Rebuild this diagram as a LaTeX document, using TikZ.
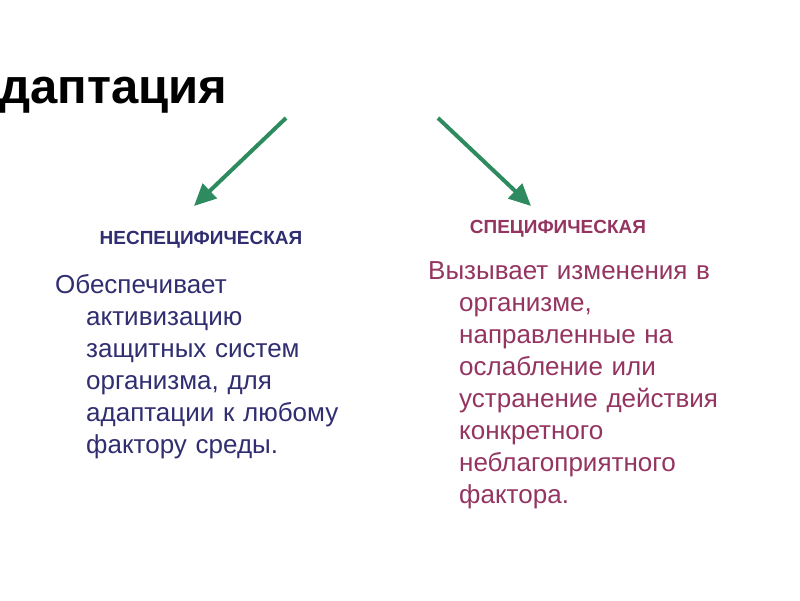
\documentclass[tikz,border=0pt]{standalone}
\usepackage{fontspec}
\setmainfont{Liberation Sans}
\usetikzlibrary{positioning, arrows.meta}
\definecolor{arrgreen}{RGB}{46,139,96}
\definecolor{navytext}{RGB}{48,46,112}
\definecolor{wine}{RGB}{148,52,96}
\newcommand{\ind}{\hspace*{31pt}}

\begin{document}
\begin{tikzpicture}[x=1pt, y=-1pt,
        head/.style={font=\fontsize{19}{22}\selectfont\bfseries, inner sep=0pt},
        body/.style={font=\fontsize{26}{32}\selectfont, text width=340pt, align=left, inner sep=0pt, anchor=north west},
        green arrow/.style={draw=arrgreen, line width=4pt, -{Triangle[length=22pt, width=20pt]}}]
        \useasboundingbox (0,0) rectangle (800,600);
        \node[anchor=base west, inner sep=0pt, font=\fontsize{49}{60}\selectfont\bfseries] (title) at (-1,103) {даптация};

        \node[head, text=navytext] (nonspec) at (201,240) {НЕСПЕЦИФИЧЕСКАЯ};
        \node[head, text=wine] (spec) at (558,229) {СПЕЦИФИЧЕСКАЯ};

        \node[body, text=navytext] (nonspectext) at (55,274)
            {Обеспечивает\\ \ind активизацию\\ \ind защитных систем\\ \ind организма, для\\ \ind адаптации к любому\\ \ind фактору среды.};
        \node[body, text=wine] (spectext) at (428,261)
            {Вызывает изменения в\\ \ind организме,\\ \ind направленные на\\ \ind ослабление или\\ \ind устранение действия\\ \ind конкретного\\ \ind неблагоприятного\\ \ind фактора.};

        \coordinate (l0) at (286,118);
        \coordinate (l1) at (194,206);
        \coordinate (r0) at (438,118);
        \coordinate (r1) at (531,206);
        \draw[green arrow] (l0) -- (l1);
        \draw[green arrow] (r0) -- (r1);
    \end{tikzpicture}
\end{document}
